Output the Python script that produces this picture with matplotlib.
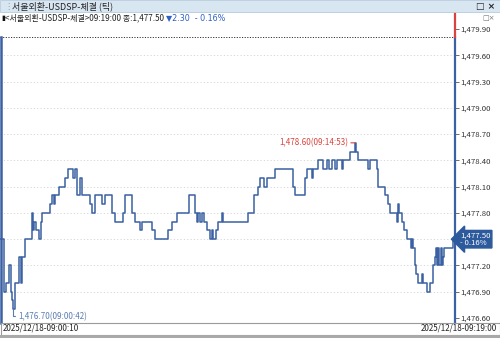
import matplotlib
matplotlib.use("Agg")
import matplotlib.pyplot as plt
import matplotlib.transforms as mtransforms
from matplotlib.patches import Rectangle

plt.rcParams['font.family'] = ['Noto Sans CJK KR', 'DejaVu Sans']

# ---- data ----
title = "서울외환-USDSP-체결 (틱)"
header = "<서울외환-USDSP-체결>09:19:00 종:1,477.50 "
change = "▼2.30  - 0.16%"
start_label = "2025/12/18-09:00:10"
end_label = "2025/12/18-09:19:00"
y_ticks = [1476.60, 1476.90, 1477.20, 1477.50, 1477.80, 1478.10,
           1478.40, 1478.70, 1479.00, 1479.30, 1479.60, 1479.90]
last_price = 1477.50
last_pct = "- 0.16%"
hi_sec, hi_price, hi_time = 893, 1478.60, "09:14:53"
lo_sec, lo_price, lo_time = 42, 1476.70, "09:00:42"

# seconds after 09:00:00, price
tick_sec = [10, 20, 25, 32, 37, 40, 42, 47, 57, 62, 64, 72, 89, 92, 94, 99,
            107, 112, 114, 134, 139, 144, 147, 156, 171, 179, 191, 196, 201,
            209, 214, 234, 239, 246, 263, 271, 288, 296, 316, 321, 338, 346,
            358, 363, 388, 395, 428, 438, 450, 480, 495, 500, 502, 507, 512,
            517, 525, 532, 537, 540, 547, 552, 562, 565, 627, 642, 652, 657,
            667, 674, 694, 739, 744, 769, 774, 786, 789, 801, 813, 823, 828,
            836, 843, 848, 858, 861, 863, 880, 893, 896, 901, 925, 930, 948,
            950, 968, 975, 980, 997, 1000, 1002, 1010, 1015, 1022, 1032,
            1035, 1037, 1042, 1045, 1050, 1060, 1062, 1072, 1080, 1087, 1092,
            1095, 1097, 1100, 1102, 1107, 1109, 1112, 1114, 1137, 1140]
tick_price = [1477.50, 1476.90, 1477.00, 1477.20, 1476.90, 1476.80, 1476.70,
              1477.00, 1477.30, 1477.00, 1477.30, 1477.50, 1477.80, 1477.60,
              1477.70, 1477.60, 1477.50, 1477.70, 1477.80, 1477.90, 1478.00,
              1477.90, 1478.00, 1478.10, 1478.20, 1478.30, 1478.20, 1478.30,
              1478.00, 1478.20, 1478.00, 1477.90, 1477.80, 1478.00, 1477.90,
              1478.00, 1477.80, 1477.70, 1477.80, 1478.00, 1477.80, 1477.70,
              1477.60, 1477.70, 1477.60, 1477.50, 1477.60, 1477.70, 1477.80,
              1478.00, 1477.80, 1477.70, 1477.80, 1477.70, 1477.80, 1477.70,
              1477.60, 1477.50, 1477.60, 1477.50, 1477.60, 1477.70, 1477.80,
              1477.70, 1477.80, 1478.00, 1478.10, 1478.20, 1478.10, 1478.20,
              1478.30, 1478.10, 1478.00, 1478.20, 1478.30, 1478.20, 1478.30,
              1478.40, 1478.30, 1478.40, 1478.30, 1478.40, 1478.30, 1478.40,
              1478.40, 1478.30, 1478.40, 1478.50, 1478.60, 1478.50, 1478.40,
              1478.30, 1478.40, 1478.30, 1478.10, 1478.00, 1477.90, 1477.80,
              1477.70, 1477.90, 1477.80, 1477.70, 1477.60, 1477.50, 1477.40,
              1477.50, 1477.40, 1477.20, 1477.10, 1477.00, 1477.10, 1477.00,
              1476.90, 1477.00, 1477.20, 1477.30, 1477.40, 1477.20, 1477.40,
              1477.20, 1477.40, 1477.20, 1477.30, 1477.40, 1477.50, 1477.50]

line_blue = "#3b60a3"
red = "#d9443f"
W, H = 500, 338
plot_bottom = 323  # px from top

fig = plt.figure(figsize=(W / 100, H / 100), dpi=100)
fig.patch.set_facecolor("white")

# title bar
fig.patches.append(Rectangle((0, 1 - 12 / H), 1, 12 / H, transform=fig.transFigure,
                             facecolor="#d8e6f2", edgecolor="#b7cbdc", lw=0.6))
fig.text(12 / W, 1 - 6 / H, title, fontsize=6.5, va="center", color="#222222")
fig.text(4 / W, 1 - 6 / H, "⋮", fontsize=6, va="center", color="#8a9aaa",
         family=["DejaVu Sans"])
fig.text(495 / W, 1 - 6 / H, "□ ×", fontsize=6.5, va="center", ha="right",
         color="#222222", family=["DejaVu Sans"], fontweight="bold")

# plot area
ax = fig.add_axes([0, (H - plot_bottom) / H, 455 / W, (plot_bottom - 12) / H])
ax.step(tick_sec, tick_price, where="post", color=line_blue, lw=1.1)
ax.set_xlim(9.7, 1141.7)
ax.set_ylim(1476.543, 1480.094)
ax.set_xticks([])
ax.yaxis.tick_right()
ax.set_yticks(y_ticks)
# the last-price box sits over the 1,477.50 label
ax.set_yticklabels(["" if v == last_price else f"{v:,.2f}" for v in y_ticks],
                   fontsize=5.6, color="#333333")
ax.tick_params(axis="y", length=3, width=0.6, color="#555555", pad=1)
for s in ax.spines.values():
    s.set_visible(False)
for v in y_ticks[1:-1]:
    ax.axhline(v, color="#d2d2d2", lw=0.6, ls=(0, (1.5, 2.5)), zorder=0)

# top dotted separator and axis edges
sep = (plot_bottom - 37) / (plot_bottom - 12)
ax.plot([0, 1], [sep, sep], transform=ax.transAxes, color="#333333",
        lw=0.7, ls=(0, (1.2, 1.5)), clip_on=False)
ax.plot([1, 1], [0, sep], transform=ax.transAxes, color=line_blue, lw=1.6,
        clip_on=False)
ax.plot([1, 1], [sep, 1], transform=ax.transAxes, color=red, lw=1.6,
        clip_on=False)
ax.plot([0.003, 0.003], [0, sep], transform=ax.transAxes, color=line_blue,
        lw=1.8, clip_on=False)

# header line
fig.text(1 / W, 1 - 18 / H, "▮", fontsize=5, va="center", color="#111111",
         family=["DejaVu Sans"])
t1 = fig.text(5 / W, 1 - 18 / H, header, fontsize=5.8, va="center",
              color="#222222")
fig.canvas.draw()
bb = t1.get_window_extent(renderer=fig.canvas.get_renderer())
fig.text(bb.x1 / W, 1 - 18 / H, change, fontsize=5.8, va="center",
         color="#2f5fc4", family=["DejaVu Sans", "Noto Sans CJK KR"])
fig.text(495 / W, 1 - 18 / H, "□×", fontsize=5, va="center", ha="right",
         color="#777777", family=["DejaVu Sans"])

# high / low annotations
ax.annotate(f"{hi_price:,.2f}({hi_time})", xy=(hi_sec, hi_price),
            xytext=(-5, 0), textcoords="offset points", ha="right",
            va="center", fontsize=5.8, color=red,
            arrowprops=dict(arrowstyle="-", color=red, lw=0.8,
                            shrinkA=0, shrinkB=0))
ax.annotate(f"{lo_price:,.2f}({lo_time})", xy=(lo_sec, lo_price),
            xytext=(3.5, -5), textcoords="offset points", ha="left",
            va="center", fontsize=5.8, color="#5b7db3",
            arrowprops=dict(arrowstyle="-", color="#5b7db3", lw=0.8,
                            shrinkA=0, shrinkB=0,
                            connectionstyle="angle,angleA=0,angleB=90,rad=0"))

# last price box
trans = mtransforms.blended_transform_factory(ax.transAxes, ax.transData)
ax.text(1.012, last_price, f"{last_price:,.2f}\n{last_pct}", transform=trans,
        ha="left", va="center", fontsize=5.6, color="white", linespacing=0.95,
        bbox=dict(boxstyle="larrow,pad=0.12", facecolor="#2d5a9c",
                  edgecolor="#2d5a9c"), clip_on=False, zorder=5)

# bottom date bar (px 323..335 from top) and scroll strip
fig.patches.append(Rectangle((0.5 / W, 3.5 / H), 499 / W, 11.5 / H,
                             transform=fig.transFigure, facecolor="white",
                             edgecolor="#9a9a9a", lw=0.8))
fig.patches.append(Rectangle((0, 0), 1, 3 / H, transform=fig.transFigure,
                             facecolor="#a9a9a9", edgecolor="none"))
fig.text(3 / W, 9.5 / H, start_label, fontsize=5.8, va="center", color="#222222")
fig.text(497 / W, 9.5 / H, end_label, fontsize=5.8, va="center", ha="right",
         color="#222222")

fig.savefig("out.png", dpi=100)
